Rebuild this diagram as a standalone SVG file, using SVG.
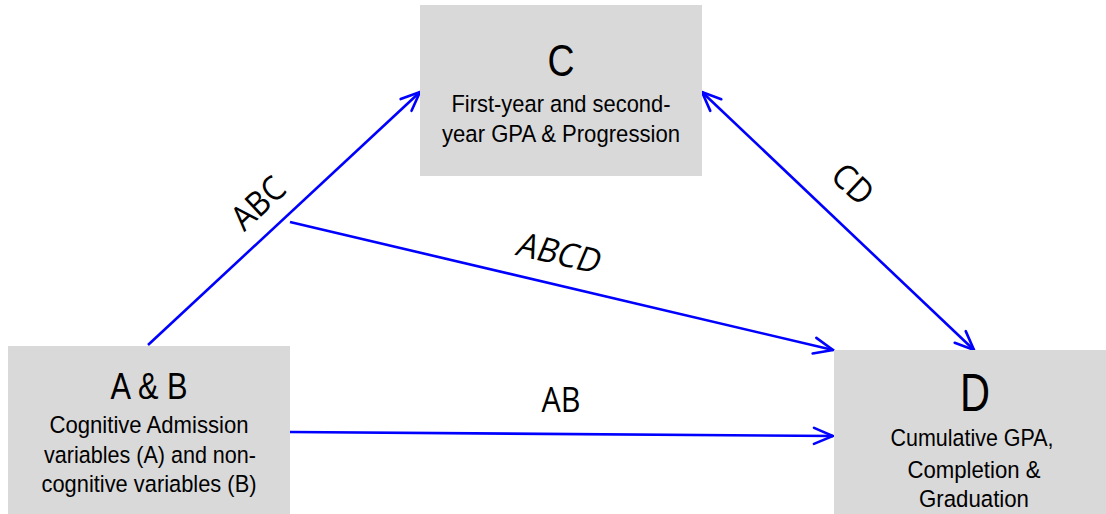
<svg xmlns="http://www.w3.org/2000/svg" width="1106" height="514" viewBox="0 0 1106 514">
<defs>
<marker id="arr" markerUnits="userSpaceOnUse" viewBox="-22 -11 24 22" refX="0" refY="0" markerWidth="24" markerHeight="22" orient="auto-start-reverse">
<path d="M-19,-8 L0,0 L-19,8" fill="none" stroke="#0000ff" stroke-width="2.6" stroke-linecap="round" stroke-linejoin="miter"/>
</marker>
<style>
.box{fill:#d9d9d9;}
.t{font-family:"Liberation Sans",Arial,sans-serif;fill:#000;text-anchor:middle;}
.body{font-size:24.5px;}
.lbl{font-family:"Open Sans","DejaVu Sans",sans-serif;font-size:34px;fill:#000;text-anchor:middle;}
.c{fill:none;stroke:#0000ff;stroke-width:2.6;marker-end:url(#arr);}
</style>
</defs>
<rect width="1106" height="514" fill="#fff"/>
<g id="connectors">
<line class="c" x1="148" y1="345" x2="420" y2="92"/>
<line class="c" x1="290" y1="222" x2="833" y2="350"/>
<line class="c" x1="290" y1="432" x2="833" y2="436"/>
<line class="c" x1="702" y1="92" x2="974" y2="350" marker-start="url(#arr)"/>
<text class="lbl" transform="translate(258,203) rotate(-43)" y="12" textLength="60" lengthAdjust="spacingAndGlyphs">ABC</text>
<text class="lbl" transform="translate(560,253) rotate(13) skewX(-10)" y="12" textLength="84" lengthAdjust="spacingAndGlyphs">ABCD</text>
<text class="lbl" x="561" y="412" textLength="39" lengthAdjust="spacingAndGlyphs">AB</text>
<text class="lbl" transform="translate(853,184) rotate(43)" y="12" textLength="43" lengthAdjust="spacingAndGlyphs">CD</text>
</g>
<g id="nodeAB">
<rect class="box" x="8" y="346" width="282" height="168"/>
<text class="t" x="149" y="399" font-size="37" textLength="77" lengthAdjust="spacingAndGlyphs">A &amp; B</text>
<text class="t body" x="149" y="433" textLength="199" lengthAdjust="spacingAndGlyphs">Cognitive Admission</text>
<text class="t body" x="150" y="463" textLength="212" lengthAdjust="spacingAndGlyphs">variables (A) and non-</text>
<text class="t body" x="149" y="492" textLength="215" lengthAdjust="spacingAndGlyphs">cognitive variables (B)</text>
</g>
<g id="nodeC">
<rect class="box" x="420" y="5" width="282" height="171"/>
<text class="t" x="561" y="76" font-size="44" textLength="27" lengthAdjust="spacingAndGlyphs">C</text>
<text class="t body" x="561" y="112" textLength="219" lengthAdjust="spacingAndGlyphs">First-year and second-</text>
<text class="t body" x="561" y="142" textLength="238" lengthAdjust="spacingAndGlyphs">year GPA &amp; Progression</text>
</g>
<g id="nodeD">
<rect class="box" x="834" y="350" width="272" height="164"/>
<text class="t" x="975" y="411" font-size="54" textLength="30" lengthAdjust="spacingAndGlyphs">D</text>
<text class="t body" x="972" y="446" textLength="163" lengthAdjust="spacingAndGlyphs">Cumulative GPA,</text>
<text class="t body" x="974" y="478" textLength="133" lengthAdjust="spacingAndGlyphs">Completion &amp;</text>
<text class="t body" x="974" y="507" textLength="110" lengthAdjust="spacingAndGlyphs">Graduation</text>
</g>
</svg>
